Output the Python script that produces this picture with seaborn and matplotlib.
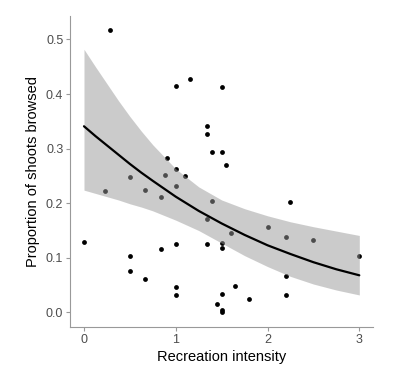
import matplotlib
matplotlib.use("Agg")
import matplotlib.pyplot as plt
import seaborn as sns
import pandas as pd

# observed shoots browsed vs recreation intensity
recreation = [0.0, 0.23, 0.28, 0.5, 0.5, 0.5, 0.67, 0.67, 0.84, 0.84,
              0.88, 0.9, 1.0, 1.0, 1.0, 1.0, 1.0, 1.0, 1.1, 1.16,
              1.34, 1.34, 1.34, 1.34, 1.4, 1.4, 1.45, 1.5, 1.5, 1.5,
              1.5, 1.5, 1.5, 1.5, 1.55, 1.6, 1.65, 1.8, 2.0, 2.2,
              2.2, 2.2, 2.25, 2.5, 3.0]
browsed = [0.129, 0.222, 0.517, 0.248, 0.104, 0.075, 0.224, 0.062, 0.212, 0.117,
           0.251, 0.283, 0.415, 0.262, 0.232, 0.126, 0.047, 0.0315, 0.25, 0.427,
           0.341, 0.326, 0.171, 0.126, 0.294, 0.205, 0.016, 0.413, 0.294, 0.1275,
           0.118, 0.034, 0.005, 0.001, 0.27, 0.146, 0.048, 0.024, 0.157, 0.138,
           0.066, 0.032, 0.2015, 0.132, 0.1025]

# fitted curve and confidence band
fit_x = [0.0, 0.125, 0.25, 0.375, 0.5, 0.625, 0.75, 1.0, 1.25, 1.5, 1.75,
         2.0, 2.25, 2.5, 2.75, 3.0]
fit_y = [0.341, 0.323, 0.306, 0.289, 0.272, 0.256, 0.241, 0.212, 0.186, 0.163, 0.142,
         0.123, 0.107, 0.092, 0.079, 0.068]
fit_lo = [0.224, 0.218, 0.212, 0.206, 0.199, 0.193, 0.186, 0.169, 0.150, 0.127, 0.104,
          0.084, 0.066, 0.052, 0.041, 0.032]
fit_hi = [0.482, 0.450, 0.419, 0.388, 0.359, 0.332, 0.307, 0.263, 0.230, 0.206, 0.190,
          0.177, 0.166, 0.157, 0.149, 0.141]

df = pd.DataFrame({"Recreation intensity": recreation, "Proportion of shoots browsed": browsed})
fit = pd.DataFrame({"x": fit_x, "y": fit_y, "lo": fit_lo, "hi": fit_hi})

sns.set_style("white")
plt.rcParams["font.family"] = ["Liberation Sans", "DejaVu Sans"]

fig = plt.figure(figsize=(3.99, 3.72), dpi=100)
ax = fig.add_axes([0.176, 0.122, 0.759, 0.835])

sns.scatterplot(data=df, x="Recreation intensity", y="Proportion of shoots browsed",
                color="black", s=12, linewidth=0, ax=ax, zorder=2)
ax.fill_between(fit["x"], fit["lo"], fit["hi"], color="#999999", alpha=0.5,
                linewidth=0, zorder=3)
sns.lineplot(data=fit, x="x", y="y", color="black", linewidth=1.6, ax=ax, zorder=4)

ax.set_xlim(-0.15, 3.15)
ax.set_ylim(-0.026, 0.543)
ax.set_xticks([0, 1, 2, 3])
ax.set_xticklabels(["0", "1", "2", "3"])
ax.set_yticks([0.0, 0.1, 0.2, 0.3, 0.4, 0.5])
ax.set_yticklabels(["0.0", "0.1", "0.2", "0.3", "0.4", "0.5"])
ax.tick_params(axis="both", length=3, width=0.8, color="#999999",
               labelcolor="#4d4d4d", labelsize=9, pad=2, bottom=True, left=True)
ax.set_xlabel("Recreation intensity", fontsize=10.5, color="black", labelpad=3)
ax.set_ylabel("Proportion of shoots browsed", fontsize=10.5, color="black", labelpad=4)

sns.despine(ax=ax)
for side in ["left", "bottom"]:
    ax.spines[side].set_color("#999999")
    ax.spines[side].set_linewidth(0.8)
ax.grid(False)

fig.savefig("out.png", dpi=100)
